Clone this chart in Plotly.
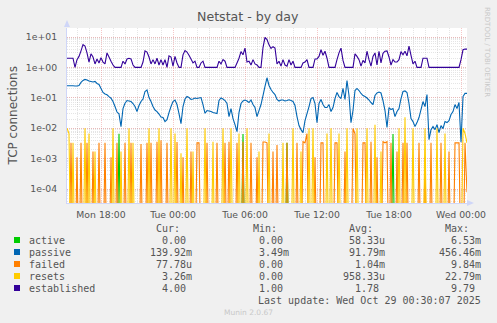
import pandas as pd
import plotly.graph_objects as go

# 10-minute samples from Mon 15:10 to Wed 00:30
times = pd.date_range("2025-10-27 15:10", periods=201, freq="10min")

active = [
    0, 0, 0, 0, 0, 0, 0, 0, 0, 0,
    0, 0, 0, 0, 0, 0, 0, 0, 0, 0,
    0, 0, 0, 0, 0, 0, 6.53e-3, 0, 0, 0,
    0, 0, 0, 0, 0, 0, 0, 0, 0, 0,
    0, 0, 0, 0, 0, 0, 0, 0, 0, 0,
    0, 0, 0, 0, 0, 0, 0, 0, 0, 0,
    0, 0, 0, 0, 0, 0, 0, 0, 0, 0,
    0, 0, 0, 0, 0, 0, 0, 0, 0, 0,
    0, 0, 0, 0, 0, 0, 0, 0, 6.5e-3, 0,
    0, 0, 0, 0, 0, 0, 0, 0, 0, 0,
    0, 0, 0, 0, 0, 0, 0, 0, 0, 0,
    3.3e-3, 0, 0, 0, 0, 0, 0, 0, 0, 0,
    0, 0, 0, 0, 0, 0, 0, 0, 0, 0,
    0, 0, 0, 0, 0, 0, 0, 0, 0, 0,
    0, 0, 0, 0, 0, 0, 0, 0, 0, 0,
    0, 0, 0, 0, 0, 0, 0, 0, 0, 0,
    0, 0, 0, 6.5e-3, 0, 0, 0, 0, 0, 0,
    0, 0, 0, 0, 0, 0, 0, 0, 0, 0,
    0, 0, 0, 0, 0, 0, 0, 0, 0, 0,
    0, 0, 0, 0, 0, 0, 0, 0, 0, 0,
    0,
]

passive = [
    0.249, 0.249, 0.249, 0.249, 0.245, 0.245, 0.255, 0.32, 0.372, 0.402,
    0.387, 0.358, 0.345, 0.332, 0.345, 0.296, 0.275, 0.203, 0.150, 0.133,
    0.126, 0.110, 0.097, 0.0755, 0.0516, 0.034, 0.0296, 0.0113, 0.0444, 0.0664,
    0.0814, 0.0784, 0.0755, 0.0649, 0.0516, 0.0353, 0.0557, 0.0755, 0.0913, 0.1614,
    0.181, 0.102, 0.0755, 0.0516, 0.0396, 0.0353, 0.0292, 0.0232, 0.0224, 0.0165,
    0.0192, 0.0327, 0.0516, 0.0755, 0.0846, 0.0601, 0.0303, 0.0142, 0.0516, 0.0913,
    0.110, 0.102, 0.0879, 0.0913, 0.0985, 0.0948, 0.0985, 0.102, 0.0601, 0.031,
    0.0381, 0.0367, 0.0353, 0.0327, 0.0315, 0.0303, 0.0814, 0.0985, 0.0913, 0.0814,
    0.0649, 0.0241, 0.0444, 0.0207, 0.0131, 0.0077, 0.0327, 0.0649, 0.0784, 0.0846,
    0.0784, 0.070, 0.0846, 0.0601, 0.0479, 0.0241, 0.0381, 0.0601, 0.119, 0.236,
    0.45646, 0.255, 0.188, 0.150, 0.1285, 0.0879, 0.0784, 0.0846, 0.0846, 0.0784,
    0.0814, 0.0859, 0.0814, 0.0755, 0.0557, 0.0241, 0.0122, 0.0090, 0.00716, 0.0178,
    0.0303, 0.0516, 0.0948, 0.102, 0.0649, 0.0153, 0.0649, 0.0879, 0.0601, 0.0479,
    0.0479, 0.0601, 0.0353, 0.0479, 0.0948, 0.150, 0.110, 0.0948, 0.203, 0.0879,
    0.372, 0.119, 0.0153, 0.0381, 0.174, 0.203, 0.174, 0.139, 0.119, 0.110,
    0.0985, 0.0846, 0.070, 0.0601, 0.119, 0.144, 0.155, 0.144, 0.0814, 0.0381,
    0.0105, 0.0479, 0.0411, 0.0444, 0.0241, 0.0353, 0.0444, 0.0948, 0.1614, 0.168,
    0.150, 0.0649, 0.0207, 0.0165, 0.0113, 0.0153, 0.0224, 0.0411, 0.0755, 0.0516,
    0.1285, 0.0042, 0.0090, 0.0113, 0.0090, 0.0131, 0.00716, 0.0122, 0.0097, 0.0165,
    0.0153, 0.0178, 0.0281, 0.0353, 0.0601, 0.0444, 0.070, 0.00349, 0.110, 0.1399,
    0.13992,
]

failed = [
    0, 0, 3.3e-3, 0, 0, 1.1e-3, 0, 3.3e-3, 0, 0,
    3.3e-3, 0, 0, 1.7e-3, 0, 0, 3.3e-3, 0, 0, 3.3e-3,
    0, 0, 1.1e-3, 0, 0, 3.3e-3, 0, 0, 0, 3.3e-3,
    0, 0, 3.3e-3, 0, 0, 0, 0, 3.0e-3, 0, 0,
    3.3e-3, 0, 3.3e-3, 0, 0, 3.6e-3, 0, 4.0e-3, 0, 0,
    3.3e-3, 0, 0, 0, 0, 3.5e-3, 0, 0, 1.1e-3, 0,
    0, 0, 1.7e-3, 0, 0, 3.3e-3, 3.3e-3, 0, 0, 0,
    3.3e-3, 0, 0, 0, 0, 3.3e-3, 0, 0, 0, 3.3e-3,
    0, 3.6e-3, 0, 0, 0, 3.3e-3, 0, 0, 3.6e-3, 0,
    0, 0, 3.3e-3, 0, 0, 1.1e-3, 0, 0, 3.5e-3, 3.5e-3,
    3.3e-3, 0, 0, 1.7e-3, 0, 2.8e-3, 0, 0, 0, 0,
    3.3e-3, 0, 0, 0, 0, 3.3e-3, 0, 0, 3.6e-3, 3.3e-3,
    6.7e-3, 0, 0, 0, 1.1e-3, 0, 0, 3.3e-3, 3.3e-3, 0,
    0, 0, 0, 0, 3.3e-3, 3.3e-3, 0, 0, 0, 1.7e-3,
    0, 0, 0, 9.84e-3, 6.5e-3, 0, 0, 0, 3.3e-3, 3.3e-3,
    0, 0, 3.6e-3, 0, 0, 1.1e-3, 0, 0, 3.6e-3, 3.3e-3,
    3.6e-3, 0, 3.3e-3, 0, 0, 1.7e-3, 0, 0, 3.3e-3, 0,
    3.3e-3, 0, 0, 0, 0, 0, 3.3e-3, 0, 0, 1.1e-3,
    0, 0, 3.3e-3, 0, 0, 0, 0, 3.3e-3, 0, 0,
    0, 1.7e-3, 0, 0, 3.3e-3, 3.3e-3, 3.3e-3, 0, 0, 3.3e-3,
    7.778e-5,
]

resets = [
    1e-2, 6.7e-3, 0, 3.3e-3, 0, 0, 0, 0, 0, 1e-2,
    0, 6.7e-3, 0, 0, 1.7e-3, 0, 0, 0, 0, 0,
    0, 0, 0, 1e-2, 0, 0, 0, 1.7e-3, 0, 0,
    0, 1e-2, 0, 3.3e-3, 0, 0, 0, 0, 0, 0,
    0, 1e-2, 0, 0, 0, 0, 1e-2, 0, 0, 0,
    0, 0, 1e-2, 0, 6.7e-3, 0, 0, 1.5e-3, 0, 0,
    1e-2, 0, 0, 1.7e-3, 0, 0, 0, 0, 0, 1e-2,
    0, 0, 0, 3.6e-3, 0, 0, 0, 0, 1e-2, 0,
    0, 0, 1e-2, 0, 0, 0, 6.7e-3, 0, 0, 0,
    1e-2, 0, 0, 0, 0, 0, 1.7e-3, 0, 0, 0,
    0, 6.7e-3, 0, 0, 0, 0, 0, 0, 3.3e-3, 0,
    0, 0, 0, 1e-2, 0, 0, 0, 1.7e-3, 0, 0,
    0, 1e-2, 0, 1e-2, 0, 0, 0, 0, 0, 0,
    6.7e-3, 0, 1e-2, 0, 0, 0, 6.7e-3, 0, 0, 0,
    1e-2, 0, 0, 0, 0, 1e-2, 0, 0, 0, 0,
    1e-2, 0, 0, 0, 1.3e-2, 0, 0, 1.7e-3, 0, 0,
    0, 0, 0, 0, 0, 0, 1e-2, 0, 0, 2.279e-2,
    0, 0, 0, 1e-2, 0, 0, 0, 0, 0, 1e-2,
    0, 0, 0, 0, 0, 1e-2, 0, 0, 0, 6.7e-3,
    0, 0, 0, 0, 0, 0, 0, 0, 1e-2, 6.7e-3,
    3.26e-3,
]

established = [
    2, 2, 2, 2, 1, 1.8, 2.3, 3.5, 5.6, 5,
    3, 1.5, 2.8, 2.2, 1.3, 1.9, 1.4, 2.1, 1.5, 1.3,
    3, 2.2, 1.6, 1.2, 1, 1, 1, 1, 1.6, 1.3,
    1.9, 2, 1.9, 1.2, 1, 1, 1, 1, 1.5, 3.5,
    3.2, 2.2, 1.3, 1.8, 1.3, 2, 1.2, 1.8, 1.2, 1.8,
    1, 2.4, 2.2, 1.1, 2.3, 1.4, 1, 1, 2.6, 3.6,
    3.2, 2.5, 1.9, 1.4, 1.6, 1, 1, 1.4, 1.6, 1,
    1, 1, 1, 1, 1, 1, 1.6, 1.3, 1.8, 1.6,
    1, 1, 1, 1, 1, 1.4, 2, 3.3, 2.6, 4.3,
    1.5, 1.6, 1.2, 1.8, 1.3, 1.2, 1, 1, 4.5, 9.79,
    8.2, 5.5, 4.2, 4.8, 4.3, 1.3, 1.6, 1.1, 1.8, 1.2,
    1.1, 1.8, 1.2, 1.6, 1, 1, 1, 1, 1.4, 1.5,
    1.8, 1, 1, 1, 1.9, 1.9, 2.3, 3.8, 2.5, 3.4,
    2, 1, 1, 1, 1, 1.8, 3, 4.3, 1.7, 1,
    1, 1, 1, 1, 2.8, 2.3, 1.8, 1.1, 1.7, 1.4,
    3.4, 1.8, 1.1, 2.3, 3, 1.2, 3.4, 1.4, 2.9, 3.4,
    3.5, 2.2, 1.2, 1.8, 1.5, 1.5, 1.8, 3.3, 2.6, 3.4,
    2.4, 5, 2.5, 1.3, 1.6, 1, 1, 1, 2, 2,
    2, 1, 1, 1, 1, 1, 1, 1, 1, 1,
    1, 1, 1, 1, 1, 1, 1, 1.8, 3.8, 4,
    4,
]

series_names = ["active", "passive", "failed", "resets", "established"]
series_colors = ["#00CC00", "#0066B3", "#FF8000", "#FFCC00", "#330099"]
series_values = [active, passive, failed, resets, established]

cur_vals = ["0.00", "139.92m", "77.78u", "3.26m", "4.00"]
min_vals = ["0.00", "3.49m", "0.00", "0.00", "1.00"]
avg_vals = ["58.33u", "91.79m", "1.04m", "958.33u", "1.78"]
max_vals = ["6.53m", "456.46m", "9.84m", "22.79m", "9.79"]

y_tick_vals = [1e-4, 1e-3, 1e-2, 1e-1, 1e0, 1e1]
y_tick_text = ["1e-04", "1e-03", "1e-02", "1e-01", "1e+00", "1e+01"]

# canvas geometry (pixels)
W, H = 497, 323
PL, PR, PT, PB = 67, 467, 28, 203
LOG_FLOOR = 1e-7  # zero counts sit below the log axis


def px(x):
    return (x - PL) / (PR - PL)


def py(y):
    return (PB - y) / (PB - PT)


fig = go.Figure()
for name, color, vals in zip(series_names, series_colors, series_values):
    fig.add_trace(go.Scatter(
        x=times, y=[v if v > 0 else LOG_FLOOR for v in vals],
        mode="lines", name=name,
        line=dict(color=color, width=1.1, simplify=False),
        hoverinfo="skip",
    ))

AXIS_COL = "#CFD6F8"
MAJ_GRID = "rgba(235,130,130,0.45)"
MIN_GRID = "rgba(160,160,160,0.28)"
TICK_FONT = dict(family="DejaVu Sans", size=9.3, color="#555555")

fig.update_layout(
    width=W, height=H,
    margin=dict(l=PL, r=W - PR, t=PT, b=H - PB, pad=0),
    paper_bgcolor="#F0F0F0", plot_bgcolor="#FFFFFF",
    showlegend=False,
    font=dict(family="DejaVu Sans", color="#555555"),
    xaxis=dict(
        type="date", range=[times[0], times[-1]],
        tick0="2025-10-27 00:00", dtick=6 * 3600 * 1000, tickformat="%a %H:%M",
        showgrid=True, gridcolor=MAJ_GRID, griddash="1px,1px", gridwidth=1,
        minor=dict(tick0="2025-10-27 00:00", dtick=3600 * 1000, showgrid=True,
                   gridcolor=MIN_GRID, griddash="1px,1px", gridwidth=1),
        showline=True, linecolor=AXIS_COL, linewidth=1,
        ticks="", tickfont=TICK_FONT, zeroline=False, ticklabelstandoff=3,
        fixedrange=True,
    ),
    yaxis=dict(
        type="log", range=[-4.46, 1.296],
        tickmode="array", tickvals=y_tick_vals, ticktext=y_tick_text,
        showgrid=True, gridcolor=MAJ_GRID, griddash="1px,1px", gridwidth=1,
        minor=dict(dtick="D1", showgrid=True, gridcolor=MIN_GRID,
                   griddash="1px,1px", gridwidth=1),
        showline=True, linecolor=AXIS_COL, linewidth=1,
        ticks="", tickfont=TICK_FONT, zeroline=False, ticklabelstandoff=7,
        fixedrange=True,
    ),
)

shapes = [
    # axis arrow heads
    dict(type="path", xref="paper", yref="paper",
         path=f"M {px(64)} {py(27)} L {px(70)} {py(27)} L {px(67)} {py(20)} Z",
         fillcolor=AXIS_COL, line=dict(width=0)),
    dict(type="path", xref="paper", yref="paper",
         path=f"M {px(467)} {py(200)} L {px(467)} {py(206)} L {px(474)} {py(203)} Z",
         fillcolor=AXIS_COL, line=dict(width=0)),
]

annotations = [
    dict(text="Netstat - by day", x=px(248), y=py(16), xref="paper", yref="paper",
         showarrow=False, xanchor="center", yanchor="middle",
         font=dict(family="DejaVu Sans", size=12.6, color="#555555")),
    dict(text="TCP connections", x=px(12), y=py(115.5), xref="paper", yref="paper",
         showarrow=False, textangle=-90, xanchor="center", yanchor="middle",
         font=dict(family="DejaVu Sans", size=12, color="#555555")),
    dict(text="RRDTOOL / TOBI OETIKER", x=px(487), y=py(52), xref="paper", yref="paper",
         showarrow=False, textangle=90, xanchor="center", yanchor="middle",
         font=dict(family="DejaVu Sans", size=7, color="#C8C8C8")),
    dict(text="Munin 2.0.67", x=px(248), y=py(312), xref="paper", yref="paper",
         showarrow=False, xanchor="center", yanchor="middle",
         font=dict(family="DejaVu Sans", size=7.5, color="#C8C8C8")),
]

MONO = dict(family="DejaVu Sans Mono", size=10, color="#555555")
col_edges = [194, 291, 387, 483]
headers = ["Cur:", "Min:", "Avg:", "Max:"]
HEAD_Y = 228
ROW_Y0, ROW_DY = 240, 12

for edge, head in zip(col_edges, headers):
    annotations.append(dict(text=head, x=px(edge - 12), y=py(HEAD_Y), xref="paper",
                            yref="paper", showarrow=False, xanchor="right",
                            yanchor="middle", font=MONO))

for k, (name, color) in enumerate(zip(series_names, series_colors)):
    ry = ROW_Y0 + k * ROW_DY
    shapes.append(dict(type="rect", xref="paper", yref="paper",
                       x0=px(14), x1=px(20), y0=py(ry + 3), y1=py(ry - 3),
                       fillcolor=color, line=dict(width=0)))
    annotations.append(dict(text=name, x=px(26.7), y=py(ry), xref="paper", yref="paper",
                            showarrow=False, xanchor="left", yanchor="middle", font=MONO))
    for edge, cell in zip(col_edges, [cur_vals[k], min_vals[k], avg_vals[k], max_vals[k]]):
        right = edge if cell[-1].isalpha() else edge - 6
        annotations.append(dict(text=cell, x=px(right), y=py(ry), xref="paper",
                                yref="paper", showarrow=False, xanchor="right",
                                yanchor="middle", font=MONO))

annotations.append(dict(text="Last update: Wed Oct 29 00:30:07 2025", x=px(483),
                        y=py(ROW_Y0 + 5 * ROW_DY), xref="paper", yref="paper",
                        showarrow=False, xanchor="right", yanchor="middle", font=MONO))

fig.update_layout(shapes=shapes, annotations=annotations)
fig.write_html("out.html")
